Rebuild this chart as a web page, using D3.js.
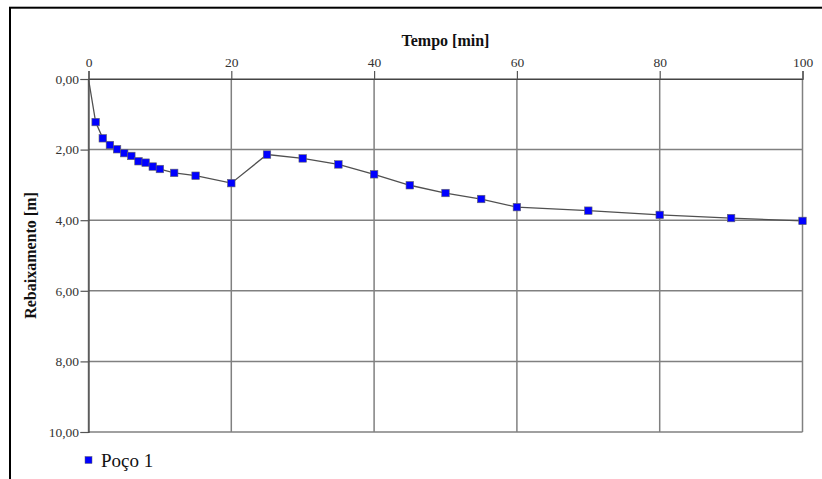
<!DOCTYPE html>
<html>
<head>
<meta charset="utf-8">
<script src="https://cdn.jsdelivr.net/npm/d3@7"></script>
<style>
  html, body { margin: 0; padding: 0; background: #fff; }
  svg { display: block; }
  text { font-family: "Liberation Serif", "Times New Roman", serif; }
</style>
</head>
<body>
<svg id="chart" width="822" height="479"></svg>
<script>
// Drawdown test, well 1: time since pumping started [min] and drawdown [m]
const times    = [0, 1, 2, 3, 4, 5, 6, 7, 8, 9, 10, 12, 15, 20, 25, 30, 35, 40, 45, 50, 55, 60, 70, 80, 90, 100];
const drawdown = [0, 1.22, 1.68, 1.87, 1.99, 2.10, 2.18, 2.33, 2.37, 2.48, 2.55, 2.66, 2.74, 2.95, 2.14, 2.25, 2.42, 2.70, 3.01, 3.23, 3.40, 3.63, 3.73, 3.85, 3.94, 4.02];
const xTicks = [0, 20, 40, 60, 80, 100];
const yTicks = [0, 2, 4, 6, 8, 10];
const seriesName = "Poço 1";
const xTitle = "Tempo [min]";
const yTitle = "Rebaixamento [m]";

const points = times.map((t, i) => ({ t, s: drawdown[i] }));

const svg = d3.select("#chart");

// outer frame
svg.append("rect")
  .attr("x", 10).attr("y", 7.7)
  .attr("width", 830).attr("height", 490)
  .attr("fill", "none")
  .attr("stroke", "#000")
  .attr("stroke-width", 2);

const x = d3.scaleLinear().domain([0, 100]).range([88.5, 802.5]);
const y = d3.scaleLinear().domain([0, 10]).range([79, 432]);
const fmt = v => d3.format(".2f")(v).replace(".", ",");

// grid
const grid = svg.append("g").attr("stroke", "#808080").attr("stroke-width", 1.5);
grid.selectAll("line.v").data(xTicks).join("line")
  .attr("class", "v")
  .attr("x1", d => x(d)).attr("x2", d => x(d))
  .attr("y1", y(0)).attr("y2", y(10));
grid.selectAll("line.h").data(yTicks).join("line")
  .attr("class", "h")
  .attr("x1", x(0)).attr("x2", x(100))
  .attr("y1", d => y(d)).attr("y2", d => y(d));

// axes
const xAxis = svg.append("g")
  .attr("transform", `translate(0,${y(0)})`)
  .call(d3.axisTop(x).tickValues(xTicks).tickSize(8).tickPadding(4.5).tickFormat(d3.format("d")));
const yAxis = svg.append("g")
  .attr("transform", `translate(${x(0)},0)`)
  .call(d3.axisLeft(y).tickValues(yTicks).tickSize(8).tickPadding(1.5).tickFormat(fmt));

[xAxis, yAxis].forEach(a => {
  a.attr("font-family", null);
  a.select(".domain").attr("stroke", "#444").attr("stroke-width", 1.2);
  a.selectAll(".tick line").attr("stroke", "#555").attr("stroke-width", 1.2);
  a.selectAll(".tick text")
    .attr("font-size", 13.5)
    .attr("fill", "#333");
});

// axis titles
svg.append("text")
  .attr("x", (x(0) + x(100)) / 2).attr("y", 46)
  .attr("text-anchor", "middle")
  .attr("font-size", 16).attr("font-weight", "bold")
  .attr("fill", "#111")
  .text(xTitle);

svg.append("text")
  .attr("transform", `translate(36,${(y(0) + y(10)) / 2}) rotate(-90)`)
  .attr("text-anchor", "middle")
  .attr("font-size", 16).attr("font-weight", "bold")
  .attr("fill", "#111")
  .text(yTitle);

// series line
const line = d3.line().x(d => x(d.t)).y(d => y(d.s));
svg.append("path")
  .datum(points)
  .attr("d", line)
  .attr("fill", "none")
  .attr("stroke", "#505050")
  .attr("stroke-width", 1.3);

// markers (the origin is the start of the curve, not a measurement)
const ms = 7.5;
svg.selectAll("rect.pt").data(points.filter(d => d.t > 0)).join("rect")
  .attr("class", "pt")
  .attr("x", d => x(d.t) - ms / 2).attr("y", d => y(d.s) - ms / 2)
  .attr("width", ms).attr("height", ms)
  .attr("fill", "#0000ff")
  .attr("stroke", "#666").attr("stroke-width", 0.6);

// legend
svg.append("rect")
  .attr("x", 85).attr("y", 456.5)
  .attr("width", 7).attr("height", 7)
  .attr("fill", "#0000ff")
  .attr("stroke", "#666").attr("stroke-width", 0.5);
svg.append("text")
  .attr("x", 101).attr("y", 467)
  .attr("font-size", 19)
  .attr("fill", "#111")
  .text(seriesName);
</script>
</body>
</html>
